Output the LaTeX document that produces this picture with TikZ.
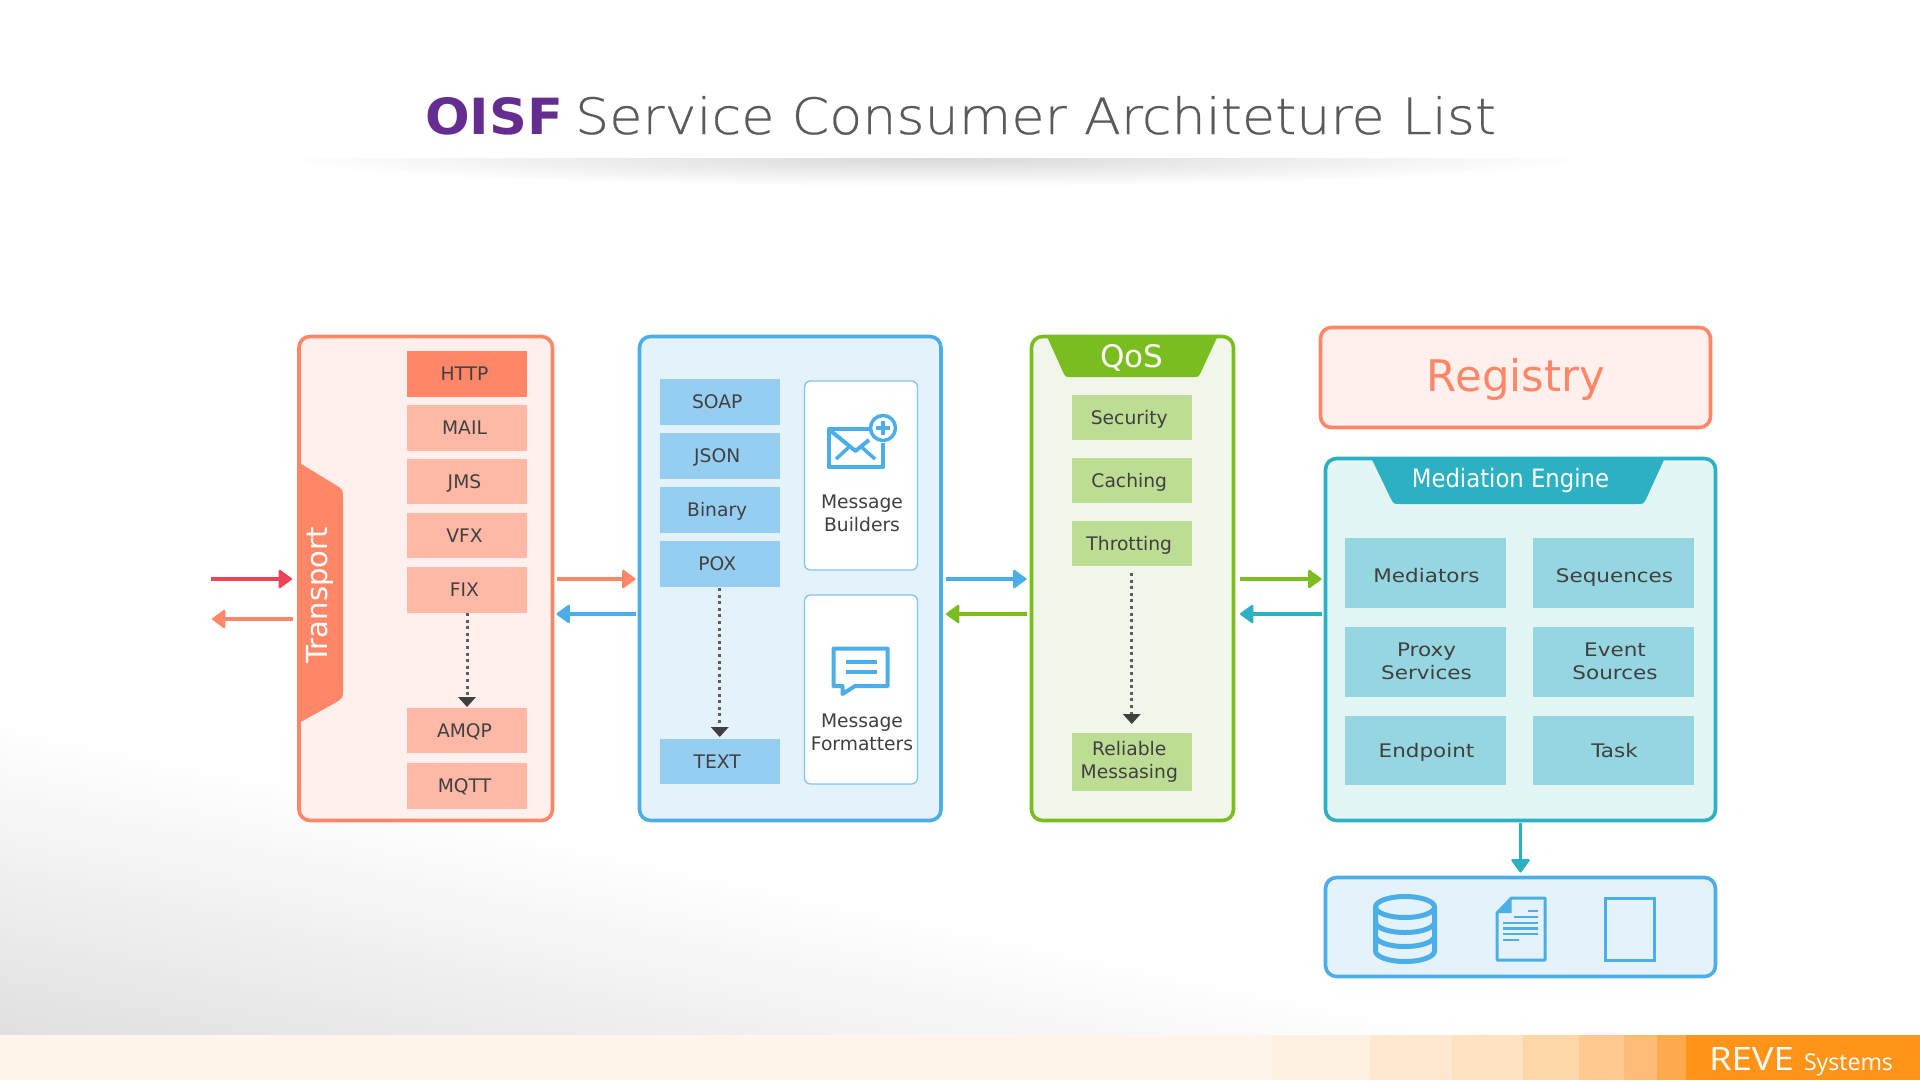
\documentclass[tikz,border=0pt]{standalone}
\usepackage{fontspec}
\usepackage{graphicx}
\usetikzlibrary{arrows.meta}
\setmainfont{DejaVu Sans}
\newfontfamily\thinfont[FakeBold=0.4]{DejaVu Sans ExtraLight}
\newfontfamily\condfont{DejaVu Sans Condensed}
\newfontfamily\brandfont{Open Sans}
\definecolor{coral}{HTML}{FF8767}
\definecolor{coralL}{HTML}{FFB8A5}
\definecolor{coralF}{HTML}{FFF0ED}
\definecolor{sky}{HTML}{4BAEE8}
\definecolor{skyL}{HTML}{96CEF2}
\definecolor{skyF}{HTML}{E4F3FB}
\definecolor{leaf}{HTML}{79BE1E}
\definecolor{leafL}{HTML}{BDDD94}
\definecolor{leafF}{HTML}{F0F7EA}
\definecolor{teal2}{HTML}{2BB0C4}
\definecolor{tealL}{HTML}{95D6E0}
\definecolor{tealF}{HTML}{E4F5F6}
\definecolor{rose}{HTML}{F0435A}
\definecolor{dk}{HTML}{404040}
\definecolor{titlegrey}{HTML}{5A5A5C}
\definecolor{oisf}{HTML}{662D91}
\definecolor{fa}{HTML}{FFF5EB}
\definecolor{fb}{HTML}{FFF0DF}
\definecolor{fc}{HTML}{FFE8CF}
\definecolor{fd}{HTML}{FFE2C2}
\definecolor{fe}{HTML}{FFD6A8}
\definecolor{ff}{HTML}{FFC98F}
\definecolor{fg}{HTML}{FFBC77}
\definecolor{fh}{HTML}{FEAA4D}
\definecolor{fi}{HTML}{FF9419}
\newcommand{\bx}[7]{%
  \pgfmathsetmacro\cxx{(#2+#4)/2}\pgfmathsetmacro\cyy{(#3+#5)/2}%
  \pgfmathsetmacro\wxx{#4-#2}\pgfmathsetmacro\hxx{#5-#3}%
  \node[#6,minimum width=\wxx pt,minimum height=\hxx pt] (#1) at (\cxx,\cyy) {#7};}
\newcommand{\sft}[1]{\mbox{#1\kern5pt}}
\newcommand{\wdr}[1]{\scalebox{1.15}[1]{#1}}
\tikzset{
  x=1pt,y=-1pt,
  every node/.style={inner sep=0pt,outer sep=0pt,text=dk,font=\fontsize{18.7}{23}\selectfont},
  panel/.style={draw=#1,line width=3.6pt,rounded corners=11pt},
  cell/.style={fill=#1,text height=14pt,text depth=1pt},
  cellm/.style={fill=#1,align=center},
  wideA/.style={fill=tealL,text height=18pt,text depth=0pt},
  wideB/.style={fill=tealL,text height=14pt,text depth=0pt},
  wideM/.style={fill=tealL,align=center},
  link/.style={line width=4pt,shorten <=4pt,shorten >=4pt,-{Triangle[length=14pt,width=20pt,round,line width=2pt]}},
  dots/.style={draw=dk!85!white,line width=3pt,dash pattern=on 3pt off 3.6pt,-{Triangle[length=10pt,width=18pt,fill=dk,color=dk,line width=0pt]}},
  icon/.style={draw=sky,line width=4pt,line join=round},
}
\begin{document}
\begin{tikzpicture}
\useasboundingbox (0,0) rectangle (1920,1080);
\fill[white] (0,0) rectangle (1920,1080);
% background wash
\begin{scope}
\clip (0,0) rectangle (1920,1036);
\begin{scope}[shift={(0,720)},rotate=-12]
\foreach \i in {1,...,48}{
  \pgfmathsetmacro\shadeval{\i*0.25}
  \pgfmathsetmacro\sy{(\i-1)*6.42}
  \fill[black!\shadeval] (-300,\sy) rectangle (2400,800);
}
\end{scope}
\end{scope}
% title shadow
\begin{scope}
\clip (280,158) rectangle (1620,195);
\shade[inner color=black!15,outer color=white] (935,158) ellipse [x radius=660,y radius=28];
\end{scope}
% footer
\fill[fa] (0,1035) rectangle (1272,1080);
\fill[fb] (1272,1035) rectangle (1370,1080);
\fill[fc] (1370,1035) rectangle (1452,1080);
\fill[fd] (1452,1035) rectangle (1523,1080);
\fill[fe] (1523,1035) rectangle (1579,1080);
\fill[ff] (1579,1035) rectangle (1624,1080);
\fill[fg] (1624,1035) rectangle (1657,1080);
\fill[fh] (1657,1035) rectangle (1686,1080);
\fill[fi] (1686,1035) rectangle (1920,1080);
\node[anchor=base west,text=white] (brandA) at (1709,1070) {\resizebox{85pt}{23pt}{\brandfont REVE}};
\node[anchor=base west,text=white] (brandB) at (1804,1070) {\resizebox{89pt}{!}{\fontsize{24}{24}\brandfont Systems}};
% title
\node[anchor=base west,text=oisf] (titleA) at (425,134) {\resizebox{138pt}{37pt}{\bfseries OISF}};
\node[anchor=base west,text=titlegrey] (titleB) at (575,134) {\resizebox{921pt}{38pt}{\thinfont Service Consumer Architeture List}};
% transport panel
\bx{tbox}{299}{336.5}{552.5}{820.5}{panel=coral,fill=coralF}{}
\fill[coral] (298,462) -- (335,484.6) .. controls (343,489.5) .. (343,498) -- (343,690) .. controls (343,698) .. (335,703) -- (298,723.5) -- cycle;
\node[rotate=90,text=white,font=\fontsize{29}{29}\selectfont] (transport) at (319.5,595.5) {Transport};
\bx{http}{407}{351}{527}{397}{cell=coral}{\sft{HTTP}}
\bx{mail}{407}{405}{527}{451}{cell=coralL}{\sft{MAIL}}
\bx{jms}{407}{459}{527}{504}{cell=coralL}{\sft{JMS}}
\bx{vfx}{407}{513}{527}{558}{cell=coralL}{\sft{VFX}}
\bx{fix}{407}{567}{527}{613}{cell=coralL}{\sft{FIX}}
\bx{amqp}{407}{708}{527}{753}{cell=coralL}{\sft{AMQP}}
\bx{mqtt}{407}{763}{527}{809}{cell=coralL}{\sft{MQTT}}
% format panel
\bx{bbox}{639.5}{336.5}{941}{820.5}{panel=sky,fill=skyF}{}
\bx{soap}{659.5}{379}{780}{425}{cell=skyL}{\sft{SOAP}}
\bx{json}{659.5}{433}{780}{479}{cell=skyL}{\sft{JSON}}
\bx{binary}{659.5}{487}{780}{533}{cell=skyL}{\sft{Binary}}
\bx{pox}{659.5}{541}{780}{587}{cell=skyL}{\sft{POX}}
\bx{text}{659.5}{739}{780}{784}{cell=skyL}{\sft{TEXT}}
\bx{builders}{804.5}{381}{917.5}{570}{draw=skyL!70!sky,line width=1.3pt,fill=white,rounded corners=6pt}{}
\bx{formatters}{804.5}{595}{917.5}{784}{draw=skyL!70!sky,line width=1.3pt,fill=white,rounded corners=6pt}{}
\node[align=center] (buildersT) at (862,513.5) {Message\\Builders};
\node[align=center] (formattersT) at (862,732) {Message\\Formatters};
% envelope icon
\draw[icon] (870,429) -- (828.5,429) -- (828.5,466.5) -- (883,466.5) -- (883,443);
\draw[icon] (828.5,429) -- (855.5,451) -- (869,440);
\draw[icon,line width=3.5pt] (836,459) -- (848.5,447.5) (875,459) -- (862,447.5);
\draw[icon,line width=3.5pt,fill=white] (883,428) circle (12.5);
\draw[icon,line width=3.5pt] (876,428) -- (890,428) (883,421) -- (883,435);
% chat icon
\draw[icon,line cap=butt] (833.5,648.5) -- (887.5,648.5) -- (887.5,686) -- (855,686) -- (842.5,694) -- (842.5,686) -- (833.5,686) -- cycle;
\draw[icon] (845.5,661.7) -- (877,661.7) (845.5,671.7) -- (877,671.7);
% QoS panel
\bx{gbox}{1031.5}{336.5}{1233.5}{820.5}{panel=leaf,fill=leafF}{}
\fill[leaf] (1046.5,335.5) -- (1063,372) .. controls (1065.5,377) .. (1071,377) -- (1193,377) .. controls (1198.5,377) .. (1201,372) -- (1218,335.5) -- cycle;
\node[text=white,font=\fontsize{31}{31}\selectfont] (qos) at (1132,358) {QoS};
\bx{security}{1072}{395}{1191.5}{440}{cell=leafL}{\sft{Security}}
\bx{caching}{1072}{458}{1191.5}{503}{cell=leafL}{\sft{Caching}}
\bx{throt}{1072}{521}{1191.5}{566}{cell=leafL}{\sft{Throtting}}
\bx{reliable}{1072}{733}{1191.5}{791}{cellm=leafL}{\raisebox{-2pt}{\sft{Reliable}}\\\raisebox{-2pt}{\sft{Messasing}}}
% registry
\bx{registry}{1320.5}{327.5}{1710.5}{427.5}{panel=coral,fill=coralF}{}
\node[text=coral,font=\fontsize{43.5}{43}\selectfont] (registryT) at (1516,379) {Registry};
% mediation
\bx{mbox}{1325.5}{458.5}{1715.5}{820.5}{panel=teal2,fill=tealF}{}
\fill[teal2] (1371,457.5) -- (1390,497) .. controls (1393.5,504) .. (1400,504) -- (1637,504) .. controls (1643.5,504) .. (1647,497) -- (1665,457.5) -- cycle;
\node[text=white,font=\fontsize{25.3}{25}\condfont] (mediaT) at (1510.5,481) {Mediation Engine};
\bx{mediators}{1345}{538}{1506}{608}{wideA}{\hspace*{2pt}\wdr{Mediators}}
\bx{sequences}{1533}{538}{1694}{608}{wideA}{\hspace*{2pt}\wdr{Sequences}}
\bx{proxy}{1345}{627}{1506}{697}{wideM}{\hspace*{2pt}\raisebox{1pt}{\wdr{Proxy}}\\\hspace*{2pt}\raisebox{1pt}{\wdr{Services}}}
\bx{event}{1533}{627}{1694}{697}{wideM}{\hspace*{3pt}\raisebox{1pt}{\wdr{Event}}\\\hspace*{3pt}\raisebox{1pt}{\wdr{Sources}}}
\bx{endpoint}{1345}{716}{1506}{785}{wideB}{\hspace*{2pt}\wdr{Endpoint}}
\bx{task}{1533}{716}{1694}{785}{wideB}{\hspace*{2pt}\wdr{Task}}
% store
\bx{store}{1325.5}{877.5}{1715.5}{976.5}{panel=sky,fill=skyF}{}
% cylinder
\draw[icon,line width=5pt] (1405,907) ellipse [x radius=29.5,y radius=10.5];
\draw[icon,line width=5pt] (1375.5,907) -- (1375.5,951) arc[start angle=180,end angle=360,x radius=29.5,y radius=-10.5] -- (1434.5,907);
\draw[icon,line width=5pt] (1375.5,922) arc[start angle=180,end angle=360,x radius=29.5,y radius=-10.5];
\draw[icon,line width=5pt] (1375.5,936) arc[start angle=180,end angle=360,x radius=29.5,y radius=-10.5];
% document
\fill[sky] (1511.5,897.5) -- (1511.5,913) -- (1497,913) -- cycle;
\draw[icon,line width=3pt] (1511.5,898) -- (1545,898) -- (1545,960) -- (1497,960) -- (1497,913) -- cycle;
\draw[icon,line width=2.6pt] (1528,911) -- (1538,911) (1514,917) -- (1538,917) (1503,923) -- (1538,923) (1503,928.5) -- (1538,928.5) (1503,934) -- (1538,934) (1503,940) -- (1519,940);
% page
\draw[icon,line width=3pt,line join=miter] (1605,898) rectangle (1654,960);
% connectors
\coordinate (rowA) at (0,579);
\coordinate (rowB) at (0,614);
\coordinate (rowC) at (0,619);
\coordinate (inA) at (211,579);
\coordinate (outB) at (212,619);
\draw[link,rose,shorten <=0pt,shorten >=7pt] (inA) -- (tbox.west |- rowA);
\draw[link,coral,shorten >=0pt,shorten <=6pt] (tbox.west |- rowC) -- (outB);
\draw[link,coral] (tbox.east |- rowA) -- (bbox.west |- rowA);
\draw[link,sky] (bbox.west |- rowB) -- (tbox.east |- rowB);
\draw[link,sky,shorten <=5pt,shorten >=5pt] (bbox.east |- rowA) -- (gbox.west |- rowA);
\draw[link,leaf,shorten <=5pt,shorten >=5pt] (gbox.west |- rowB) -- (bbox.east |- rowB);
\draw[link,leaf,shorten <=6.5pt,shorten >=4pt] (gbox.east |- rowA) -- (mbox.west |- rowA);
\draw[link,teal2,shorten <=4pt,shorten >=6.5pt] (mbox.west |- rowB) -- (gbox.east |- rowB);
\draw[link,teal2,line width=3.5pt,shorten <=2pt,shorten >=5pt] (mbox.south) -- (store.north);
\draw[dots,shorten >=1pt] (fix.south) -- (amqp.north);
\draw[dots,shorten <=1pt,shorten >=2pt] (pox.south) -- (text.north);
\draw[dots,shorten <=7pt,shorten >=9pt] (throt.south) -- (reliable.north);
\end{tikzpicture}
\end{document}
